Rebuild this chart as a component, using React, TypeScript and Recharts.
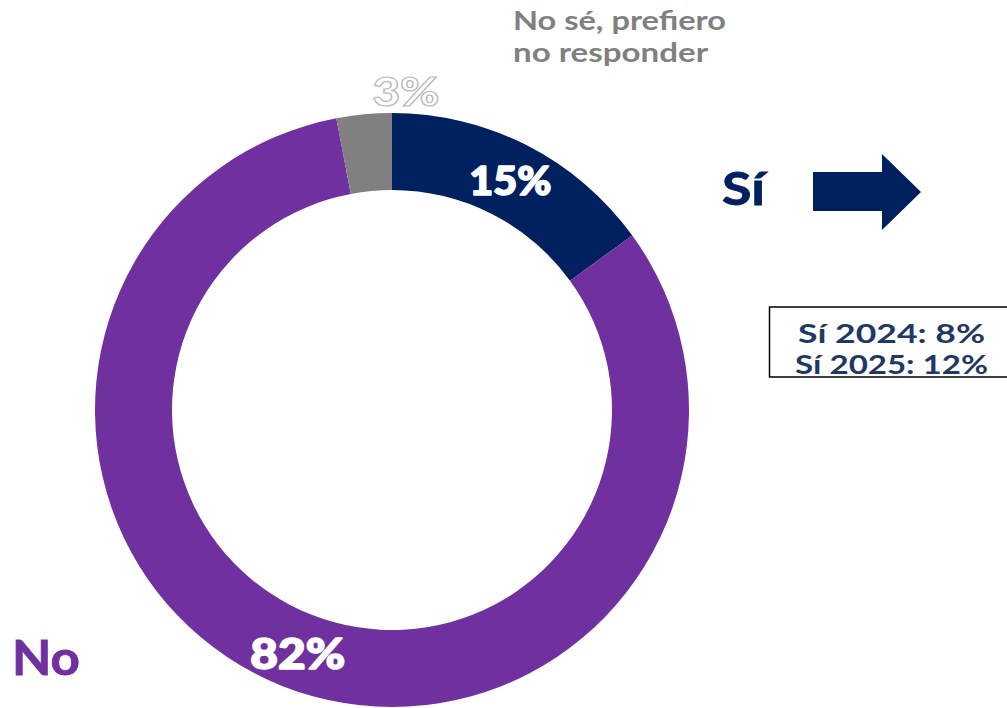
import React from 'react';
import { PieChart, Pie, Cell } from 'recharts';

const categories = ['Sí', 'No', 'No sé, prefiero no responder'];
const values = [15, 82, 3];
const valueLabels = ['15%', '82%', '3%'];
const colors = ['#002060', '#7030A0', '#808080'];
const boxLines = ['Sí 2024: 8%', 'Sí 2025: 12%'];
const unsureLines = ['No sé, prefiero', 'no responder'];

const data = categories.map((name, i) => ({ name, value: values[i], label: valueLabels[i] }));

const FONT = 'Lato, "Open Sans", "DejaVu Sans", sans-serif';
const RAD = Math.PI / 180;
const labelWidths = [82, 95, 67];

const renderLabel = (props: any) => {
  const { cx, cy, midAngle, innerRadius, outerRadius, index } = props;
  if (index === 2) {
    return (
      <text
        x={cx + 14}
        y={cy - outerRadius - 22}
        textAnchor="middle"
        dominantBaseline="central"
        fill="#ffffff"
        stroke="#b8b8b8"
        strokeWidth={1.2}
        fontFamily={FONT}
        fontWeight={900}
        fontSize={40}
        textLength={labelWidths[index]}
        lengthAdjust="spacingAndGlyphs"
      >
        {valueLabels[index]}
      </text>
    );
  }
  const r = (innerRadius + outerRadius) / 2;
  const x = cx + r * Math.cos(-midAngle * RAD);
  const y = cy + r * Math.sin(-midAngle * RAD);
  return (
    <text
      x={x + 1}
      y={y + (index === 1 ? 3 : 0)}
      textAnchor="middle"
      dominantBaseline="central"
      fill="#ffffff"
      stroke="#ffffff"
      strokeWidth={1.6}
      strokeLinejoin="round"
      fontFamily={FONT}
      fontWeight={900}
      fontSize={index === 1 ? 42 : 40}
      textLength={labelWidths[index]}
      lengthAdjust="spacingAndGlyphs"
    >
      {valueLabels[index]}
    </text>
  );
};

export default function App() {
  return (
    <div style={{ position: 'absolute', left: 0, top: 0, width: 1007, height: 708, background: '#ffffff' }}>
      <PieChart
        width={1007}
        height={708}
        margin={{ top: 0, right: 0, bottom: 0, left: 0 }}
        style={{ position: 'absolute', left: 0, top: 0 }}
      >
        <Pie
          data={data}
          dataKey="value"
          nameKey="name"
          cx={392}
          cy={410}
          innerRadius={220}
          outerRadius={297}
          startAngle={90}
          endAngle={-270}
          stroke="none"
          isAnimationActive={false}
          labelLine={false}
          label={renderLabel}
        >
          {data.map((d, i) => (
            <Cell key={d.name} fill={colors[i]} />
          ))}
        </Pie>
      </PieChart>
      <svg width={1007} height={708} style={{ position: 'absolute', left: 0, top: 0, pointerEvents: 'none' }}>
        <text x={513} y={30} fill="#808080" fontFamily={FONT} fontWeight={700} fontSize={26}
          textLength={213} lengthAdjust="spacingAndGlyphs">
          {unsureLines[0]}
        </text>
        <text x={513} y={62} fill="#808080" fontFamily={FONT} fontWeight={700} fontSize={26}
          textLength={195} lengthAdjust="spacingAndGlyphs">
          {unsureLines[1]}
        </text>
        <text x={722} y={205} fill="#002060" stroke="#002060" strokeWidth={0.8} fontFamily={FONT} fontWeight={700} fontSize={46}
          textLength={43} lengthAdjust="spacingAndGlyphs">
          {categories[0]}
        </text>
        <polygon points="813,172 882,172 882,154 921,192 882,230 882,211 813,211" fill="#002060" />
        <rect x={769.5} y={307} width={260} height={70} fill="#ffffff" stroke="#000000" strokeWidth={1.5} />
        <text x={798} y={343} fill="#1F3864" fontFamily={FONT} fontWeight={700} fontSize={26}
          textLength={187} lengthAdjust="spacingAndGlyphs">
          {boxLines[0]}
        </text>
        <text x={795} y={374} fill="#1F3864" fontFamily={FONT} fontWeight={700} fontSize={26}
          textLength={193} lengthAdjust="spacingAndGlyphs">
          {boxLines[1]}
        </text>
        <text x={12} y={675} fill="#7030A0" stroke="#7030A0" strokeWidth={0.8} fontFamily={FONT} fontWeight={700} fontSize={47}
          textLength={68} lengthAdjust="spacingAndGlyphs">
          {categories[1]}
        </text>
      </svg>
    </div>
  );
}
